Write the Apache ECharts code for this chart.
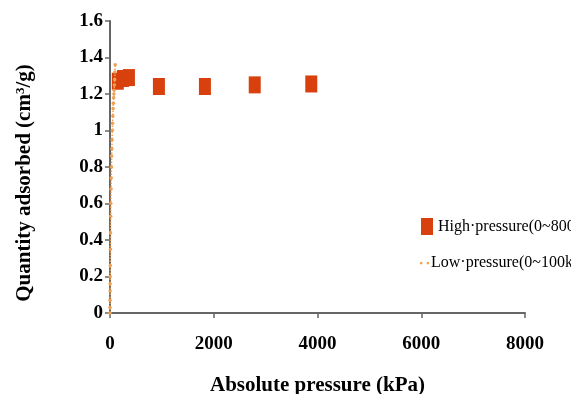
<!DOCTYPE html>
<html><head><meta charset="utf-8">
<script src="https://cdn.jsdelivr.net/npm/echarts@6/dist/echarts.min.js"></script>
<style>html,body{margin:0;padding:0;background:#fff}#c{width:571px;height:394px}</style>
</head><body><div id="c"></div>
<script>
const highName = 'High·pressure(0~8000kPa)';
const lowName = 'Low·pressure(0~100kPa)';
const highX = [150, 250, 365, 943, 1830, 2790, 3880];
const highY = [1.27, 1.285, 1.29, 1.241, 1.241, 1.25, 1.255];
const lowX = [0.2, 0.5, 1, 2, 3, 4, 6, 8, 10, 13, 16, 20, 24, 28, 32, 36, 40, 45, 50, 55, 60, 65, 70, 75, 80, 85, 90, 95, 100];
const lowY = [0.0, 0.03, 0.07, 0.12, 0.16, 0.2, 0.26, 0.35, 0.44, 0.53, 0.6, 0.68, 0.74, 0.8, 0.86, 0.9, 0.95, 1.0, 1.04, 1.08, 1.12, 1.15, 1.18, 1.2, 1.22, 1.25, 1.28, 1.32, 1.36];
const xTicks = [0, 2000, 4000, 6000, 8000];
const yTicks = [0, 0.2, 0.4, 0.6, 0.8, 1, 1.2, 1.4, 1.6];

const serif = '"Liberation Serif","Times New Roman",serif';
const chart = echarts.init(document.getElementById('c'));
chart.setOption({
  animation: false,
  backgroundColor: '#fff',
  grid: {left: 110, right: 46, top: 21, bottom: 81, containLabel: false, outerBoundsMode: 'none'},
  xAxis: {
    type: 'value', min: xTicks[0], max: xTicks[xTicks.length-1], interval: 2000,
    splitLine: {show: false},
    axisLine: {lineStyle: {color: '#666', width: 2}},
    axisTick: {show: true, length: 5, lineStyle: {color: '#666', width: 1.5}},
    axisLabel: {fontFamily: serif, fontWeight: 'bold', fontSize: 19, color: '#000', margin: 22,
      formatter: v => String(v)},
    name: 'Absolute pressure (kPa)', nameLocation: 'middle', nameGap: 62,
    nameTextStyle: {fontFamily: serif, fontWeight: 'bold', fontSize: 21, color: '#000'}
  },
  yAxis: {
    type: 'value', min: yTicks[0], max: yTicks[yTicks.length-1], interval: 0.2,
    splitLine: {show: false},
    axisLine: {show: true, lineStyle: {color: '#666', width: 2}},
    axisTick: {show: true, length: 5, lineStyle: {color: '#666', width: 1.5}},
    axisLabel: {fontFamily: serif, fontWeight: 'bold', fontSize: 19, color: '#000', margin: 7,
      formatter: v => String(v)},
    name: 'Quantity adsorbed (cm{s|3}/g)', nameLocation: 'middle', nameGap: 74, nameRotate: 90,
    nameTextStyle: {fontFamily: serif, fontWeight: 'bold', fontSize: 21, color: '#000', padding: [0, 32, 0, 0],
      rich: {s: {fontFamily: serif, fontWeight: 'bold', fontSize: 13, color: '#000', verticalAlign: 'top', padding: [0,0,9,0]}}}
  },
  legend: [
    {data: [{name: highName, icon: 'rect'}], left: 421, top: 218, padding: 0, itemWidth: 12, itemHeight: 17, itemGap: 3,
     textStyle: {fontFamily: serif, fontSize: 16, color: '#000', padding: [0,0,0,0]}},
    {data: [{name: lowName, icon: 'path://M0,0h2v2h-2z M6,0h2v2h-2z'}], left: 420, top: 255, padding: 0, itemWidth: 9, itemHeight: 3,
     textStyle: {fontFamily: serif, fontSize: 16, color: '#000', padding: [0,0,0,-3]}}
  ],
  series: [
    {name: lowName, type: 'line', data: lowX.map((x,i)=>[x, lowY[i]]),
     showSymbol: true, symbol: 'circle', symbolSize: 3.5,
     itemStyle: {color: '#f0a050', opacity: 1},
     lineStyle: {color: '#f0a050', width: 1.5, type: 'dotted'}, z: 3},
    {name: highName, type: 'scatter', data: highX.map((x,i)=>[x, highY[i]]),
     symbol: 'rect', symbolSize: [12, 17],
     itemStyle: {color: '#d8410e', opacity: 1}, z: 2}
  ]
});
</script></body></html>
